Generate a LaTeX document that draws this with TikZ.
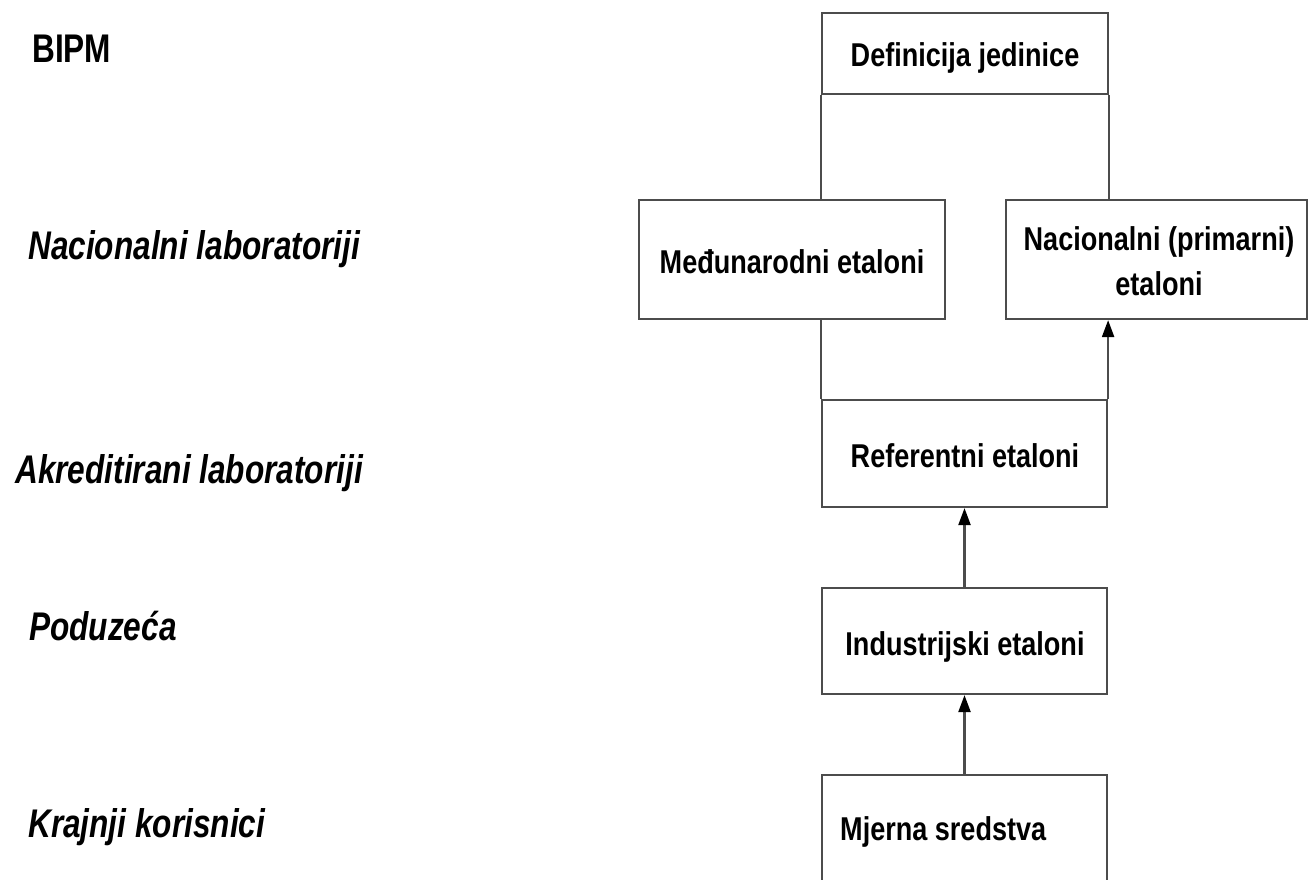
\documentclass[tikz,border=0pt]{standalone}
\usepackage{fontspec}
\newfontfamily\boxfont[FakeStretch=0.82]{Liberation Sans}
\newfontfamily\lblfont[FakeStretch=0.79]{Liberation Sans}
\usetikzlibrary{arrows.meta}
\begin{document}
\begin{tikzpicture}[x=1pt,y=-1pt,
  box/.style={draw=black!70,line width=2.2pt,rectangle,inner sep=0pt},
  boxtext/.style={font=\boxfont\bfseries\fontsize{33}{45}\selectfont,inner sep=0pt,anchor=base},
  lvl/.style={font=\lblfont\bfseries\itshape\fontsize{40}{48}\selectfont,inner sep=0pt,anchor=base west},
  conn/.style={draw=black!70,line width=2.2pt},
  arr/.style={conn,-{Triangle[length=17pt,width=12pt,color=black]}}]
\useasboundingbox (0,0) rectangle (1309,879);
% level labels
\node[lvl,font=\lblfont\bfseries\fontsize{40}{48}\selectfont] (bipm) at (32,62) {BIPM};
\node[lvl] (natlab) at (28,259) {Nacionalni laboratoriji};
\node[lvl] (akrlab) at (15,483) {Akreditirani laboratoriji};
\node[lvl] (podu) at (29,640) {Poduzeća};
\node[lvl] (kraj) at (28,837) {Krajnji korisnici};
% boxes
\node[box,minimum width=286pt,minimum height=81pt] (def) at (965,53.5) {};
\node[box,minimum width=306pt,minimum height=119pt] (med) at (792,259.5) {};
\node[box,minimum width=301pt,minimum height=119pt] (nac) at (1156.5,259.5) {};
\node[box,minimum width=285pt,minimum height=107pt] (ref) at (964.5,453.5) {};
\node[box,minimum width=285pt,minimum height=106pt] (ind) at (964.5,641) {};
\node[box,minimum width=285pt,minimum height=130pt] (mj) at (964.5,840) {};
% box texts
\node[boxtext] (deft) at (965,66) {Definicija jedinice};
\node[boxtext] (medt) at (792,273) {Međunarodni etaloni};
\node[boxtext] (nact1) at (1159,250) {Nacionalni (primarni)};
\node[boxtext] (nact2) at (1159,295) {etaloni};
\node[boxtext] (reft) at (965,467) {Referentni etaloni};
\node[boxtext] (indt) at (965,655) {Industrijski etaloni};
\node[boxtext,anchor=base west] (mjt) at (840,840) {Mjerna sredstva};
% connectors
\draw[conn] (def.south west) -- (def.south west |- med.north);
\draw[conn] (def.south east) -- (def.south east |- nac.north);
\draw[conn] (med.south -| ref.north west) -- (ref.north west);
\draw[arr] (ref.north east) -- (ref.north east |- nac.south);
\draw[arr] (ind.north) -- (ref.south);
\draw[arr] (mj.north) -- (ind.south);
\end{tikzpicture}
\end{document}
